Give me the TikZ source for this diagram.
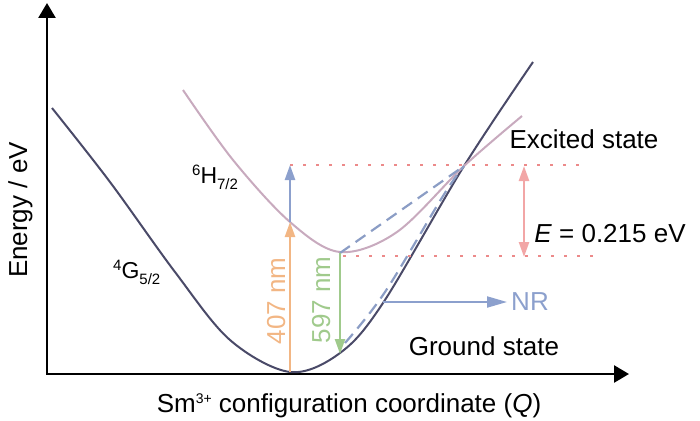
\documentclass[tikz,border=0pt]{standalone}
\usepackage{fontspec}
\setmainfont{Liberation Sans}
\usetikzlibrary{arrows.meta}
\definecolor{groundc}{RGB}{74,74,104}
\definecolor{excitc}{RGB}{200,170,190}
\definecolor{bluec}{RGB}{140,160,205}
\definecolor{orangec}{RGB}{242,182,132}
\definecolor{greenc}{RGB}{160,202,140}
\definecolor{pinkc}{RGB}{242,166,166}
\definecolor{dotc}{RGB}{236,138,138}
\begin{document}
\begin{tikzpicture}[x=1pt,y=-1pt,
  lbl/.style={inner sep=0pt, font=\fontsize{26}{30}\selectfont},
  slbl/.style={inner sep=0pt, font=\fontsize{23}{27}\selectfont},
  axisline/.style={line width=2.6pt, black},
  curveline/.style={line width=2pt},
  tri/.style={-{Triangle[length=15pt,width=10pt]}},
  colarrow/.style={line width=2.4pt, tri},
  dotline/.style={dotc, line width=2.8pt, dash pattern=on 2.8pt off 10.2pt},
  dashline/.style={bluec!90!gray, line width=2.2pt, dash pattern=on 12pt off 7pt}]
\useasboundingbox (0,0) rectangle (700,420);

% axes
\coordinate (O) at (47,374);
\coordinate (ytip) at (47,3);
\coordinate (xtip) at (629,374);
\draw[axisline, {Triangle[length=15pt,width=17pt]}-{Triangle[length=15pt,width=17pt]}] (ytip) -- (O) -- (xtip);

% curves
\draw[curveline, groundc] plot[smooth, tension=0.55] coordinates
  {(52,108) (110,182) (175,272) (230,340) (290,372) (340,353) (383,303) (464,166) (533,62)};
\draw[curveline, excitc] plot[smooth, tension=0.55] coordinates
  {(183,90) (233,160) (290,222) (340,252) (397,232) (464,166) (522,116)};

% key points
\coordinate (gmin) at (290,372);
\coordinate (exA) at (290,222);
\coordinate (topA) at (290,165);
\coordinate (exmin) at (340,253);
\coordinate (gB) at (340,354);
\coordinate (cross) at (464,166);
\coordinate (nrS) at (383,302);
\coordinate (nrE) at (507,302);
\coordinate (eTop) at (524,166);
\coordinate (eBot) at (524,257);
\coordinate (upEnd) at (582,165);
\coordinate (loStart) at (343,256);
\coordinate (loEnd) at (597,256);

% dotted levels
\draw[dotline] (topA) -- (upEnd);
\draw[dotline] (loStart) -- (loEnd);

% dashed relaxation paths
\draw[dashline] (exmin) -- (cross);
\draw[dashline] plot[smooth, tension=0.6] coordinates {(345,343) (385,292) (443,196) (cross)};

% transitions
\draw[colarrow, bluec] (exA) -- (topA);
\draw[colarrow, orangec] (gmin) -- (exA);
\draw[colarrow, greenc] (exmin) -- (gB);
\draw[line width=2pt, bluec, -{Triangle[length=20pt,width=11pt]}] (nrS) -- (nrE);
\draw[line width=2.4pt, pinkc, {Triangle[length=15pt,width=10pt]}-{Triangle[length=15pt,width=10pt]}] (eTop) -- (eBot);

% labels
\node[lbl, anchor=base] (excited) at (584,148) {Excited state};
\node[lbl, anchor=base] (eval) at (610,242) {\textit{E} = 0.215 eV};
\node[lbl, anchor=base, bluec] (nr) at (530,310) {NR};
\node[lbl, anchor=base] (ground) at (484,355) {Ground state};
\node[lbl, anchor=base] (xlab) at (349,412) {Sm\raisebox{9pt}{\fontsize{14}{14}\selectfont 3+} configuration coordinate (\textit{Q})};
\node[lbl, anchor=base, rotate=90] (ylab) at (27,210) {Energy / eV};
\node[lbl, anchor=base, rotate=90, orangec] (l407) at (285,301) {407 nm};
\node[lbl, anchor=base, rotate=90, greenc] (l597) at (330,300) {597 nm};
\node[slbl, anchor=base west] (hlab) at (192,183) {\raisebox{8pt}{\fontsize{15}{15}\selectfont 6}H\raisebox{-6pt}{\fontsize{15}{15}\selectfont 7/2}};
\node[slbl, anchor=base west] (glab) at (113,278) {\raisebox{8pt}{\fontsize{15}{15}\selectfont 4}G\raisebox{-6pt}{\fontsize{15}{15}\selectfont 5/2}};
\end{tikzpicture}
\end{document}
